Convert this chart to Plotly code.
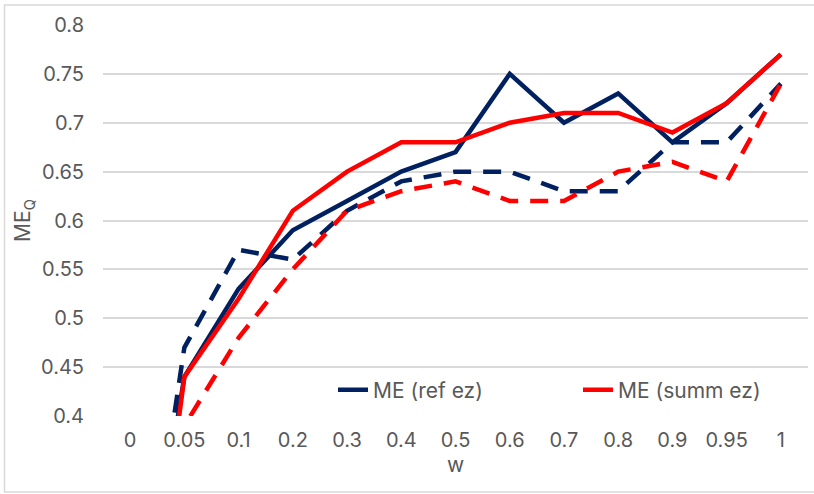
import plotly.graph_objects as go

categories = ["0", "0.05", "0.1", "0.2", "0.3", "0.4", "0.5", "0.6", "0.7", "0.8", "0.9", "0.95", "1"]
me_ref_ez = [0.10, 0.44, 0.53, 0.59, 0.62, 0.65, 0.67, 0.75, 0.70, 0.73, 0.68, 0.72, 0.77]
me_summ_ez = [0.02, 0.44, 0.52, 0.61, 0.65, 0.68, 0.68, 0.70, 0.71, 0.71, 0.69, 0.72, 0.77]
me_ref_ez_dash = [0.10, 0.47, 0.57, 0.56, 0.61, 0.64, 0.65, 0.65, 0.63, 0.63, 0.68, 0.68, 0.74]
me_summ_ez_dash = [0.10, 0.39, 0.48, 0.55, 0.61, 0.63, 0.64, 0.62, 0.62, 0.65, 0.66, 0.64, 0.74]
y_ticks = [0.4, 0.45, 0.5, 0.55, 0.6, 0.65, 0.7, 0.75, 0.8]
y_tick_text = ["0.4", "0.45", "0.5", "0.55", "0.6", "0.65", "0.7", "0.75", "0.8"]

NAVY = "#002060"
RED = "#FF0000"
FONT = "Inter, Roboto, Noto Sans, sans-serif"
GRAY = "#595959"

fig = go.Figure()
fig.add_trace(go.Scatter(x=categories, y=me_ref_ez_dash, mode="lines", showlegend=False,
                         line=dict(color=NAVY, width=4.5, dash="18px,12px")))
fig.add_trace(go.Scatter(x=categories, y=me_summ_ez_dash, mode="lines", showlegend=False,
                         line=dict(color=RED, width=4.5, dash="18px,12px")))
fig.add_trace(go.Scatter(x=categories, y=me_ref_ez, mode="lines", name="ME (ref ez)",
                         legend="legend", line=dict(color=NAVY, width=4.5)))
fig.add_trace(go.Scatter(x=categories, y=me_summ_ez, mode="lines", name="ME (summ ez)",
                         legend="legend2", line=dict(color=RED, width=4.5)))

W, H = 814, 494
ml, mr, mt, mb = 103, 6, 25, 78
pw, ph = W - ml - mr, H - mt - mb

def px_x(p):
    return (p - ml) / pw

def px_y(p):
    return (H - mb - p) / ph

legend_common = dict(orientation="h", yanchor="middle", xanchor="left",
                     bgcolor="rgba(0,0,0,0)", font=dict(size=21, color=GRAY),
                     itemwidth=30)

fig.update_layout(
    width=W, height=H,
    margin=dict(l=ml, r=mr, t=mt, b=mb),
    paper_bgcolor="white", plot_bgcolor="white",
    font=dict(family=FONT, size=19, color=GRAY),
    xaxis=dict(type="category", range=[-0.5, 12.5], showgrid=False, zeroline=False,
               showline=False, ticks="", tickfont=dict(size=20, color=GRAY),
               ticklabelstandoff=10,
               title=dict(text="w", font=dict(size=21, color=GRAY), standoff=2)),
    yaxis=dict(range=[0.4, 0.8], tickvals=y_ticks, ticktext=y_tick_text,
               showgrid=True, gridcolor="#D9D9D9", gridwidth=1.5, zeroline=False,
               showline=False, ticks="", tickfont=dict(size=20, color=GRAY),
               ticklabelstandoff=18,
               title=dict(text="ME<sub>Q</sub>", font=dict(size=21, color=GRAY), standoff=4)),
    legend=dict(x=px_x(333), y=px_y(390), **legend_common),
    legend2=dict(x=px_x(578), y=px_y(390), **legend_common),
    shapes=[dict(type="rect", xref="paper", yref="paper",
                 x0=px_x(4.5), x1=px_x(818), y0=px_y(492), y1=px_y(5),
                 line=dict(color="#D9D9D9", width=1.5), layer="below")],
)

fig.write_html("out.html")
